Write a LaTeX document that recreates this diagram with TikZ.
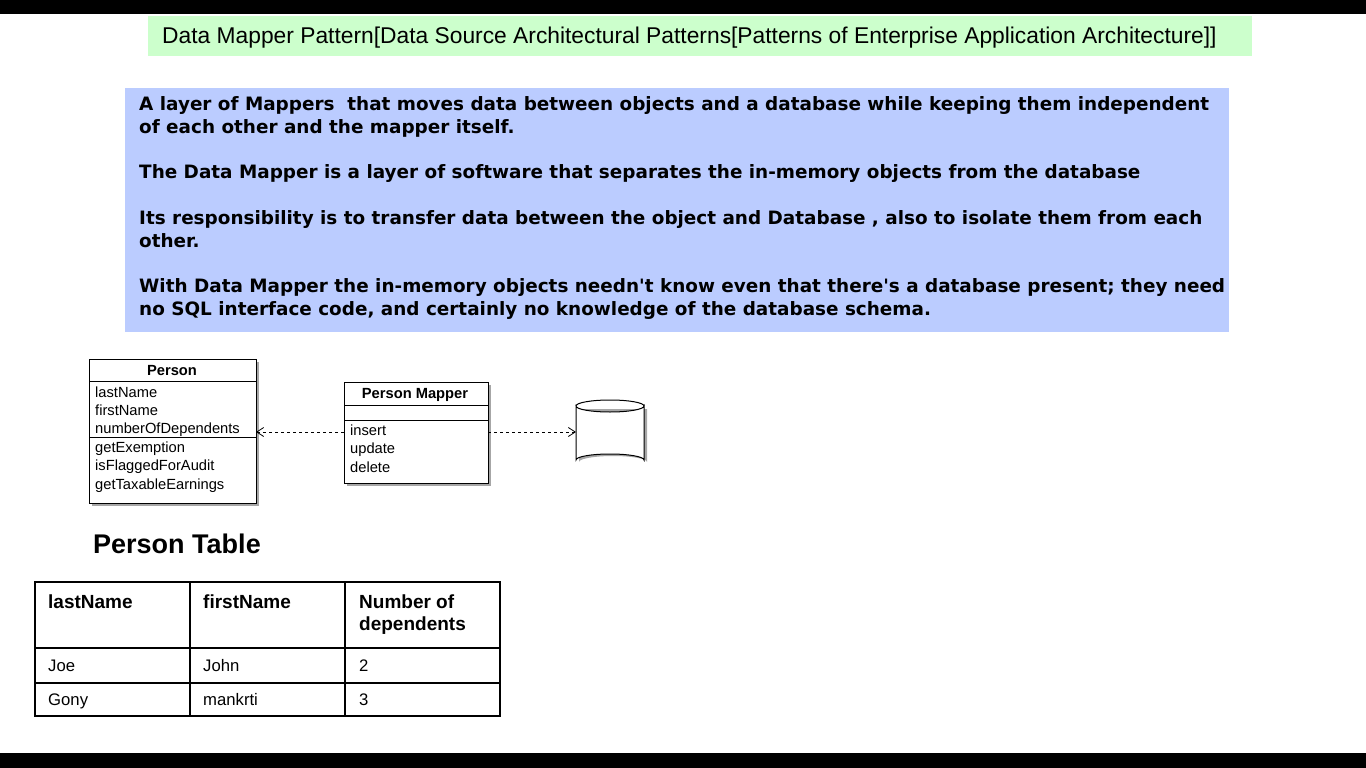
\documentclass[tikz,border=0pt]{standalone}
\usepackage{fontspec}
\setmainfont{Liberation Sans}
\newfontfamily\verd{DejaVu Sans}
\usetikzlibrary{arrows.meta,shapes.geometric}
\tikzset{
  lbl/.style={anchor=base west,inner sep=0pt,font=\fontsize{14.7}{17}\selectfont},
  bluetxt/.style={anchor=north west,inner sep=0pt,align=left,font=\verd\bfseries\fontsize{18.4}{23}\selectfont},
  umlbox/.style={draw,line width=1pt},
  shadow/.style={fill=black!35},
  dep/.style={dashed,line width=0.8pt,-{Straight Barb[length=7pt,width=9pt]}},
  hcell/.style={anchor=base west,inner sep=0pt,font=\bfseries\fontsize{19}{22}\selectfont},
  dcell/.style={anchor=base west,inner sep=0pt,font=\fontsize{16.7}{18}\selectfont},
}
\begin{document}
\begin{tikzpicture}[x=1pt,y=-1pt]
\useasboundingbox (0,0) rectangle (1366,768);
\fill[black] (0,0) rectangle (1366,14);
\fill[black] (0,753) rectangle (1366,768);
% title
\fill[fill={rgb,255:red,204;green,255;blue,204}] (148,16) rectangle (1252,56);
\node[anchor=base west,inner sep=0pt,font=\fontsize{22.8}{26}\selectfont] (title) at (162,44) {Data Mapper Pattern[Data Source Architectural Patterns[Patterns of Enterprise Application Architecture]]};
% blue box
\fill[fill={rgb,255:red,187;green,204;blue,255}] (125,88) rectangle (1229,332);
\node[bluetxt] (t1) at (139,96) {A layer of Mappers\ \ that moves data between objects and a database while keeping them independent\\of each other and the mapper itself.};
\node[bluetxt] (t2) at (139,164) {The Data Mapper is a layer of software that separates the in-memory objects from the database};
\node[bluetxt] (t3) at (139,210) {Its responsibility is to transfer data between the object and Database , also to isolate them from each\\other.};
\node[bluetxt] (t4) at (139,278) {With Data Mapper the in-memory objects needn't know even that there's a database present; they need\\no SQL interface code, and certainly no knowledge of the database schema.};
% Person class
\fill[shadow] (92,362) rectangle (259,506);
\draw[umlbox,fill=white] (89,359) rectangle (256,503);
\draw[line width=0.8pt] (89,381) -- (256,381);
\draw[line width=0.8pt] (89,437) -- (256,437);
\node[anchor=base,inner sep=0pt,font=\bfseries\fontsize{14.7}{17}\selectfont] (pname) at (172,375) {Person};
\node[lbl] (a1) at (95,397) {lastName};
\node[lbl] (a2) at (95,415) {firstName};
\node[lbl] (a3) at (95,433) {numberOfDependents};
\node[lbl] (m1) at (95,452) {getExemption};
\node[lbl] (m2) at (95,470) {isFlaggedForAudit};
\node[lbl] (m3) at (95,489) {getTaxableEarnings};
\coordinate (pR) at (256,432);
% Mapper class
\fill[shadow] (347,385) rectangle (491,486);
\draw[umlbox,fill=white] (344,382) rectangle (488,483);
\draw[line width=0.8pt] (344,405) -- (488,405);
\draw[line width=0.8pt] (344,420) -- (488,420);
\node[anchor=base,inner sep=0pt,font=\bfseries\fontsize{14.7}{17}\selectfont] (mname) at (415,398) {Person Mapper};
\node[lbl] (i1) at (350,435) {insert};
\node[lbl] (i2) at (350,453) {update};
\node[lbl] (i3) at (350,472) {delete};
\coordinate (mL) at (344,432);
\coordinate (mR) at (488,432);
% database
\fill[shadow] (579,409) -- (579,462) arc[start angle=180,end angle=360,x radius=34,y radius=6] -- (647,409) -- cycle;
\draw[line width=1pt,fill=white] (576,406) -- (576,460) arc[start angle=180,end angle=360,x radius=34,y radius=6] -- (644,406) arc[start angle=0,end angle=180,x radius=34,y radius=6] -- cycle;
\draw[line width=1pt] (576,406) arc[start angle=180,end angle=360,x radius=34,y radius=6];
\coordinate (dbL) at (576,432);
\draw[dep] (mL) -- (pR);
\draw[dep] (mR) -- (dbL);
% table
\node[anchor=base west,inner sep=0pt,font=\bfseries\fontsize{27}{30}\selectfont] (ptitle) at (93,553) {Person Table};
\draw[line width=2pt] (35,582) rectangle (500,716);
\draw[line width=1.5pt] (190,582) -- (190,716) (345,582) -- (345,716) (35,648) -- (500,648) (35,683) -- (500,683);
\node[hcell] (h1) at (48,608) {lastName};
\node[hcell] (h2) at (203,608) {firstName};
\node[hcell] (h3) at (359,608) {Number of};
\node[hcell] (h3b) at (359,630) {dependents};
\node[dcell] (c11) at (48,671) {Joe};
\node[dcell] (c12) at (203,671) {John};
\node[dcell] (c13) at (359,671) {2};
\node[dcell] (c21) at (48,705) {Gony};
\node[dcell] (c22) at (203,705) {mankrti};
\node[dcell] (c23) at (359,705) {3};
\end{tikzpicture}
\end{document}
